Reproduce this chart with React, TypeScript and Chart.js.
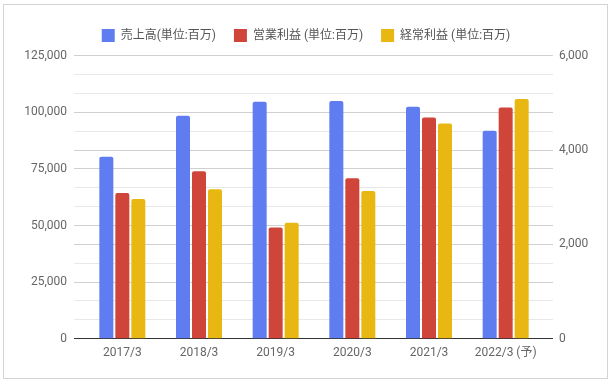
import React, { useEffect, useRef } from "react";
import { Chart, registerables } from "chart.js";

Chart.register(...registerables);

const categories = ["2017/3", "2018/3", "2019/3", "2020/3", "2021/3", "2022/3 (予)"];
const salesLabel = "売上高(単位:百万)";
const opProfitLabel = "営業利益 (単位:百万)";
const ordProfitLabel = "経常利益 (単位:百万)";
const sales = [80400, 98500, 104700, 105000, 102400, 91800];
const operatingProfit = [3090, 3550, 2360, 3400, 4690, 4900];
const ordinaryProfit = [2960, 3170, 2460, 3130, 4560, 5080];

const leftMax = 125000;
const leftLabelStep = 25000;
const rightMax = 6000;
const rightLabelStep = 2000;
const gridDivisions = 15;

const FONT = "Roboto, 'Noto Sans CJK JP', sans-serif";

function isMultiple(v: number, step: number) {
  const r = v / step;
  return Math.abs(r - Math.round(r)) < 1e-6;
}

function gridColor(ctx: any) {
  const i = ctx.index;
  if (i === 0) return "#333333";
  if (i % 3 === 0 || i % 5 === 0) return "#d0d0d0";
  return "#e8e8e8";
}

export default function App() {
  const ref = useRef<HTMLCanvasElement | null>(null);
  useEffect(() => {
    if (!ref.current) return;
    const legendGap = {
      id: "legendGap",
      beforeLayout(chart: any) {
        const lg = chart.legend;
        if (lg && !lg.__patched) {
          const fit = lg.fit;
          lg.fit = function () {
            fit.call(this);
            this.height += 3.7;
          };
          lg.__patched = true;
        }
      },
    };
    const chart = new Chart(ref.current, {
      type: "bar",
      data: {
        labels: categories,
        datasets: [
          { label: salesLabel, data: sales, backgroundColor: "#5f7cf0", yAxisID: "y", borderRadius: 2, borderWidth: 0 },
          { label: opProfitLabel, data: operatingProfit, backgroundColor: "#cf4539", yAxisID: "y1", borderRadius: 2, borderWidth: 0 },
          { label: ordProfitLabel, data: ordinaryProfit, backgroundColor: "#e8b711", yAxisID: "y1", borderRadius: 2, borderWidth: 0 },
        ],
      },
      options: {
        responsive: false,
        animation: false,
        datasets: { bar: { categoryPercentage: 0.626, barPercentage: 0.875 } },
        layout: { padding: { top: 11, left: 0, right: 0, bottom: 0 } },
        plugins: {
          legend: {
            position: "top",
            labels: {
              boxWidth: 13,
              boxHeight: 13,
              padding: 18,
              color: "#555555",
              font: { family: FONT, size: 12 },
            },
          },
          tooltip: { enabled: false },
        },
        scales: {
          x: {
            grid: { display: false, drawTicks: false },
            border: { display: false },
            ticks: { color: "#666666", font: { family: FONT, size: 12 }, padding: 7 },
            afterFit: (s: any) => { s.height = 42.3; },
          },
          y: {
            position: "left",
            min: 0,
            max: leftMax,
            afterBuildTicks: (s: any) => {
              s.ticks = Array.from({ length: gridDivisions + 1 }, (_, i) => ({ value: (i * leftMax) / gridDivisions }));
            },
            grid: { color: gridColor, tickLength: 10, lineWidth: 1 },
            border: { display: false },
            ticks: {
              color: "#666666",
              font: { family: FONT, size: 12 },
              padding: 7,
              autoSkip: false,
              callback: (v: any) => (isMultiple(Number(v), leftLabelStep) ? Math.round(Number(v)).toLocaleString("en-US") : ""),
            },
            afterFit: (s: any) => { s.width = 84; },
          },
          y1: {
            position: "right",
            min: 0,
            max: rightMax,
            afterBuildTicks: (s: any) => {
              s.ticks = Array.from({ length: gridDivisions + 1 }, (_, i) => ({ value: (i * rightMax) / gridDivisions }));
            },
            grid: { color: gridColor, tickLength: 9, drawOnChartArea: false, lineWidth: 1 },
            border: { display: false },
            ticks: {
              color: "#666666",
              font: { family: FONT, size: 12 },
              padding: 6,
              autoSkip: false,
              callback: (v: any) => (isMultiple(Number(v), rightLabelStep) ? Math.round(Number(v)).toLocaleString("en-US") : ""),
            },
            afterFit: (s: any) => { s.width = 68; },
          },
        },
      },
      plugins: [legendGap],
    } as any);
    return () => chart.destroy();
  }, []);
  return (
    <div style={{ position: "fixed", left: 0, top: 0, width: 612, height: 381, background: "#fff" }}>
      <canvas ref={ref} width={612} height={381} style={{ position: "absolute", left: 0, top: 0 }} />
      <div
        style={{
          position: "absolute",
          left: 3,
          top: 4,
          width: 605,
          height: 375,
          boxSizing: "border-box",
          border: "1px solid #d3d3d3",
          pointerEvents: "none",
        }}
      />
    </div>
  );
}
